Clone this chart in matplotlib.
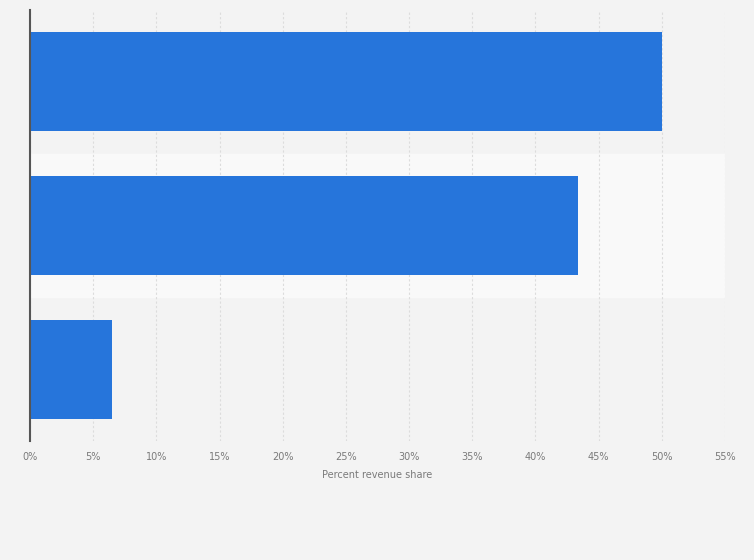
import numpy as np
import matplotlib.pyplot as plt

categories = ['A', 'B', 'C']
shares = [50.0, 43.4, 6.5]
xticks = [0, 5, 10, 15, 20, 25, 30, 35, 40, 45, 50, 55]

W, H = 754, 560
fig = plt.figure(figsize=(W / 100, H / 100), dpi=100)
fig.patch.set_facecolor('#f3f3f3')
ax = fig.add_axes([30 / W, 1 - 441 / H, (725 - 30) / W, (441 - 10) / H])
ax.set_facecolor('#f3f3f3')

ypos = np.arange(len(categories))
# alternating band behind the middle row
for i in ypos:
    if i % 2 == 1:
        ax.axhspan(i - 0.5, i + 0.5, color='#f9f9f9', zorder=0)

ax.barh(ypos, shares, height=0.69, color='#2675db', zorder=3)

ax.set_xlim(0, 55)
ax.set_ylim(len(categories) - 0.5, -0.5)
ax.set_xticks(xticks)
ax.set_xticklabels([f'{t}%' for t in xticks], color='#7a7a7a', fontsize=7)
ax.tick_params(axis='x', length=0, pad=8)
ax.set_yticks([])
ax.xaxis.grid(True, color='#dcdcdc', linestyle=(0, (2, 2)), linewidth=0.8, zorder=1)
ax.set_axisbelow(True)

for s in ['top', 'right', 'bottom']:
    ax.spines[s].set_visible(False)
ax.spines['left'].set_color('#555555')
ax.spines['left'].set_linewidth(1.5)
ax.spines['left'].set_zorder(4)

ax.set_xlabel('Percent revenue share', color='#7a7a7a', fontsize=7, labelpad=6)

fig.savefig('out.png', dpi=100, facecolor=fig.get_facecolor())
